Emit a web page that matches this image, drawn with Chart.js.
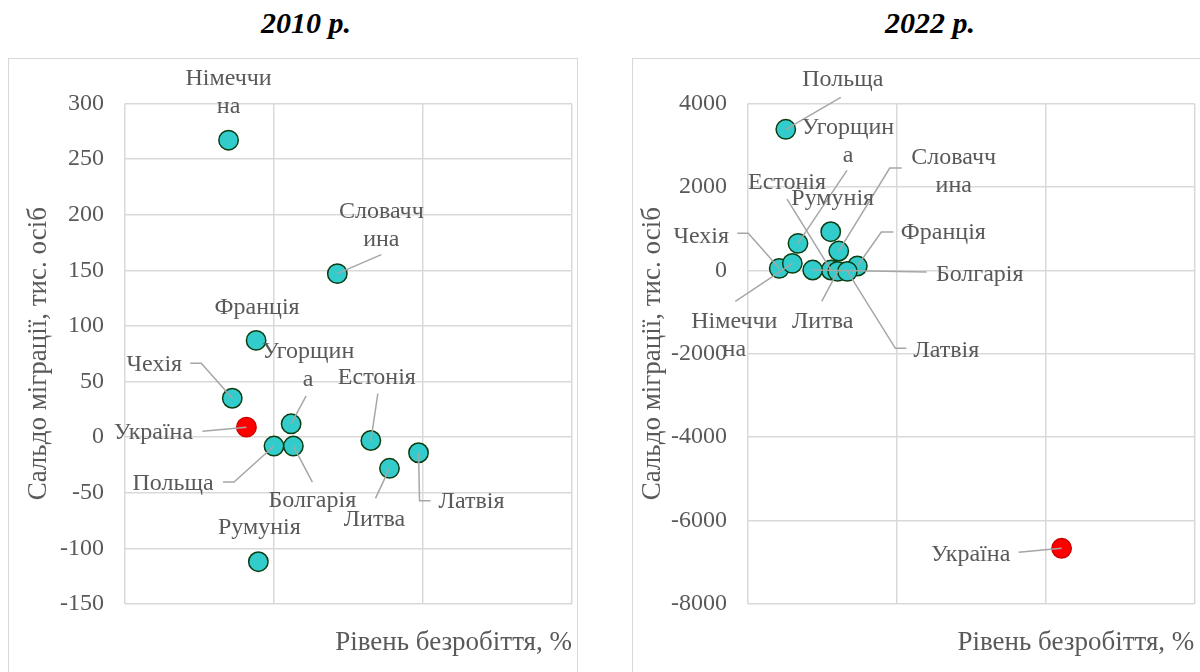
<!DOCTYPE html>
<html>
<head>
<meta charset="utf-8">
<script src="https://cdn.jsdelivr.net/npm/chart.js@4.4.0/dist/chart.umd.min.js"></script>
<style>
  body { margin: 0; width: 1200px; height: 672px; overflow: hidden; background: #fff; position: relative; }
  .title { position: absolute; top: 8px; width: 200px; text-align: center; font: italic bold 30px/30px "Liberation Serif", serif; color: #000; }
  .box { position: absolute; border: 1.5px solid #d9d9d9; box-sizing: border-box; }
  canvas { position: absolute; }
</style>
</head>
<body>
<div class="title" style="left:206px">2010 р.</div>
<div class="title" style="left:830px">2022 р.</div>
<div class="box" style="left:8px;top:58px;width:570px;height:640px"></div>
<div class="box" style="left:632px;top:58px;width:600px;height:640px"></div>
<canvas id="c2010" width="570" height="614" style="left:8px;top:58px"></canvas>
<canvas id="c2022" width="567" height="614" style="left:633px;top:58px"></canvas>
<script>
// 2010
const countries2010 = ['Німеччина', 'Словаччина', 'Франція', 'Угорщина', 'Чехія', 'Україна', 'Естонія', 'Польща', 'Болгарія', 'Литва', 'Латвія', 'Румунія'];
const unemployment2010 = [6.95, 14.25, 8.8, 11.15, 7.2, 8.15, 16.5, 10.0, 11.3, 17.75, 19.7, 8.95];
const migration2010 = [267, 147, 87, 12, 35, 9, -3, -8, -8, -28, -14, -112];

// 2022
const countries2022 = ['Польща', 'Угорщина', 'Естонія', 'Румунія', 'Словаччина', 'Чехія', 'Франція', 'Болгарія', 'Німеччина', 'Литва', 'Латвія', 'Україна'];
const unemployment2022 = [2.54, 3.36, 5.58, 5.56, 6.1, 2.1, 7.35, 4.35, 2.98, 6.03, 6.68, 21.08];
const migration2022 = [3381, 647, 7, 926, 463, 48, 103, 7, 168, -24, -24, -6664];

const xTitle = 'Рівень безробіття, %';
const yTitle = 'Сальдо міграції, тис. осіб';

// label placement relative to the marker (px): text centre, and leader line points
const labels2010 = {
  'Німеччина': { dx: 0, dy: -62 },
  'Словаччина': { dx: 44, dy: -62, lead: [[44, -19]] },
  'Франція': { dx: 1, dy: -33 },
  'Угорщина': { dx: 17, dy: -72, lead: [[15, -28]] },
  'Чехія': { dx: -78, dy: -34, lead: [[-42, -35], [-31, -35]] },
  'Україна': { dx: -93, dy: 6, lead: [[-44, 4]] },
  'Естонія': { dx: 6, dy: -63, lead: [[7, -47]] },
  'Польща': { dx: -101, dy: 38, lead: [[-51, 36], [-40, 36]] },
  'Болгарія': { dx: 19, dy: 55, lead: [[19, 36]] },
  'Литва': { dx: -15, dy: 51, lead: [[-14, 30]] },
  'Латвія': { dx: 53, dy: 49, lead: [[12, 48], [1, 48]] },
  'Румунія': { dx: 1, dy: -34 }
};
const labels2022 = {
  'Польща': { dx: 57, dy: -50, lead: [[55, -32]] },
  'Угорщина': { dx: 50, dy: -116, lead: [[49, -73]] },
  'Естонія': { dx: -44, dy: -87, lead: [[-44, -71]] },
  'Румунія': { dx: 2, dy: -33 },
  'Словаччина': { dx: 115, dy: -93, lead: [[63, -83], [51, -83]] },
  'Чехія': { dx: -78, dy: -32, lead: [[-42, -35], [-31, -35]] },
  'Франція': { dx: 86, dy: -33, lead: [[36, -34], [24, -34]] },
  'Болгарія': { dx: 167, dy: 5, lead: [[114, 2]] },
  'Німеччина': { dx: -58, dy: 58, lead: [[-57, 38]] },
  'Литва': { dx: -15, dy: 50, lead: [[-16, 30]] },
  'Латвія': { dx: 99, dy: 79, lead: [[59, 77], [48, 77]] },
  'Україна': { dx: -91, dy: 6, lead: [[-43, 4]] }
};

const FONT = '"Liberation Serif", "Times New Roman", serif';
const GREY = '#595959';

function wrapText(ctx, text, maxW) {
  const lines = [];
  let cur = '';
  for (const ch of text) {
    if (cur && ctx.measureText(cur + ch).width > maxW) { lines.push(cur); cur = ch; }
    else cur += ch;
  }
  lines.push(cur);
  return lines;
}

const leaderLabels = {
  id: 'leaderLabels',
  afterDatasetsDraw(chart, args, opts) {
    const ctx = chart.ctx;
    const pts = chart.getDatasetMeta(0).data;
    ctx.save();
    ctx.strokeStyle = '#a6a6a6';
    ctx.lineWidth = 1.5;
    pts.forEach((p, i) => {
      const l = opts.layout[opts.names[i]];
      if (!l.lead) return;
      ctx.beginPath();
      ctx.moveTo(p.x + l.lead[0][0], p.y + l.lead[0][1]);
      l.lead.slice(1).forEach(q => ctx.lineTo(p.x + q[0], p.y + q[1]));
      ctx.lineTo(p.x, p.y);
      ctx.stroke();
    });
    ctx.font = '24px ' + FONT;
    ctx.fillStyle = GREY;
    ctx.textAlign = 'center';
    ctx.textBaseline = 'middle';
    pts.forEach((p, i) => {
      const l = opts.layout[opts.names[i]];
      const lines = wrapText(ctx, opts.names[i], 96);
      lines.forEach((t, k) => ctx.fillText(t, p.x + l.dx, p.y + l.dy + k * 28));
    });
    ctx.restore();
  }
};

function makeChart(id, names, xs, ys, yMin, yMax, yStep, layout, box) {
  const canvas = document.getElementById(id);
  const pointsData = xs.map((x, i) => ({ x: x, y: ys[i] }));
  const isUa = names.map(n => n === 'Україна');
  return new Chart(canvas, {
    type: 'scatter',
    data: {
      datasets: [{
        data: pointsData,
        pointRadius: 9.7,
        pointBorderWidth: 1.5,
        pointBackgroundColor: isUa.map(u => u ? '#ff0000' : '#33cccc'),
        pointBorderColor: isUa.map(u => u ? '#d00000' : '#0b3d12')
      }]
    },
    options: {
      responsive: false,
      animation: false,
      devicePixelRatio: 1,
      layout: { autoPadding: false, padding: { top: 45.5, right: box.right, left: 0, bottom: 0 } },
      plugins: {
        legend: { display: false },
        tooltip: { enabled: false },
        leaderLabels: { names: names, layout: layout }
      },
      scales: {
        x: {
          type: 'linear', min: 0, max: 30,
          ticks: { display: false, stepSize: 10 },
          grid: { color: '#d9d9d9', lineWidth: 1.5, drawTicks: false },
          border: { display: false },
          title: { display: true, text: xTitle, align: 'end', color: GREY, font: { family: FONT, size: 27 }, padding: { top: 0, bottom: 12.8 } },
          afterFit: s => { s.height = 68; }
        },
        y: {
          min: yMin, max: yMax,
          ticks: { stepSize: yStep, padding: 21, color: GREY, font: { family: FONT, size: 24 }, callback: v => String(v) },
          grid: { color: '#d9d9d9', lineWidth: 1.5, drawTicks: false },
          border: { display: false },
          title: { display: true, text: yTitle, color: GREY, font: { family: FONT, size: 27 }, padding: { top: box.yTitlePad, bottom: 0 } },
          afterFit: s => { s.width = box.left; }
        }
      }
    },
    plugins: [leaderLabels]
  });
}

makeChart('c2010', countries2010, unemployment2010, migration2010, -150, 300, 50, labels2010,
  { left: 117, right: 6, yTitlePad: 14.8 });
makeChart('c2022', countries2022, unemployment2022, migration2022, -8000, 4000, 2000, labels2022,
  { left: 115, right: 5.7, yTitlePad: 3.8 });
</script>
</body>
</html>
